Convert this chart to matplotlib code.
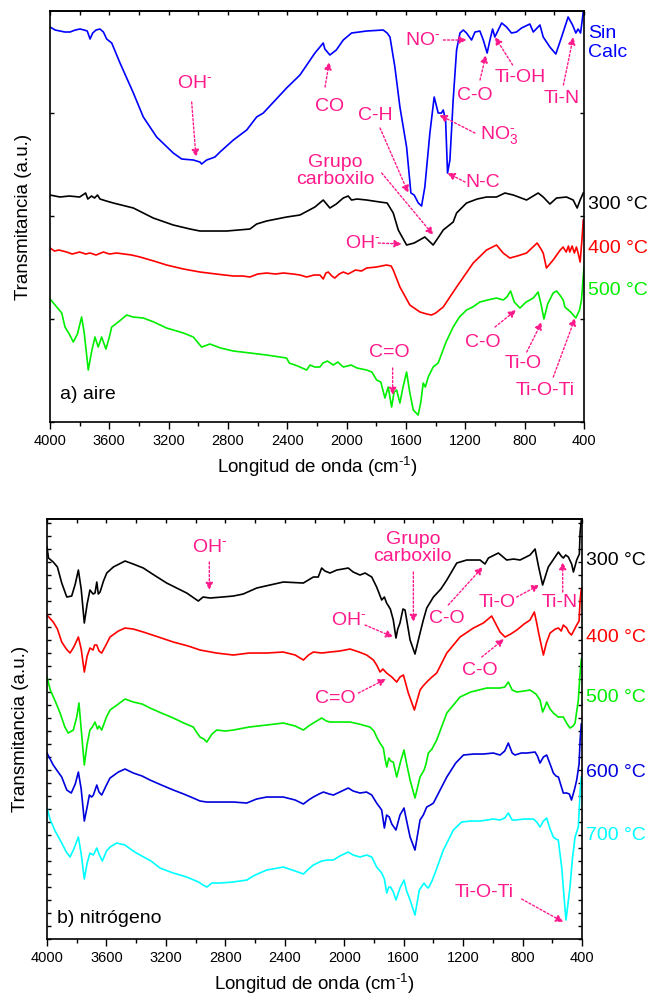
import numpy as np
import matplotlib
matplotlib.use("Agg")
import matplotlib.pyplot as plt
from matplotlib.ticker import MultipleLocator
import matplotlib.transforms as mtransforms

plt.rcParams['font.family'] = ['Liberation Sans', 'DejaVu Sans']
plt.rcParams['mathtext.fontset'] = 'custom'
plt.rcParams['mathtext.rm'] = 'Liberation Sans'
plt.rcParams['mathtext.it'] = 'Liberation Sans:italic'
plt.rcParams['mathtext.bf'] = 'Liberation Sans:bold'

# ---- spectra, (wavenumber cm-1, transmittance a.u. with offsets) ----
# a) aire
aire_sin_calc = [(4000, 395), (3965, 392), (3933, 391), (3900, 390), (3865, 390), (3830, 392), (3798, 393),
                 (3770, 392), (3749, 391), (3730, 383), (3712, 389), (3690, 392), (3663, 393), (3640, 390),
                 (3618, 383), (3584, 379), (3528, 359), (3438, 329), (3371, 305), (3281, 285), (3169, 269),
                 (3112, 263), (3034, 262), (2989, 260), (2978, 258), (2944, 262), (2888, 265), (2854, 270),
                 (2764, 282), (2674, 292), (2607, 305), (2562, 309), (2405, 334), (2315, 347), (2214, 369),
                 (2158, 379), (2147, 373), (2113, 367), (2070, 372), (2023, 382), (1967, 389), (1865, 391),
                 (1754, 392), (1727, 389), (1708, 385), (1675, 355), (1641, 315), (1596, 275), (1567, 229),
                 (1545, 227), (1517, 219), (1495, 216), (1473, 235), (1439, 289), (1410, 325), (1383, 309),
                 (1361, 309), (1349, 312), (1333, 302), (1320, 249), (1304, 262), (1282, 322), (1259, 372),
                 (1236, 389), (1214, 392), (1192, 389), (1158, 382), (1135, 390), (1102, 391), (1079, 382),
                 (1053, 369), (1034, 382), (1016, 393), (1001, 385), (955, 399), (922, 395), (889, 389),
                 (855, 390), (821, 394), (765, 398), (742, 390), (697, 397), (675, 385), (630, 375),
                 (590, 368), (551, 385), (507, 405), (477, 397), (455, 389), (440, 393), (423, 389), (405, 410)]

aire_300 = [(4000, 227), (3933, 225), (3870, 226), (3800, 225), (3760, 229), (3745, 223), (3720, 226),
            (3700, 224), (3680, 227), (3663, 223), (3620, 221), (3573, 219), (3438, 214), (3304, 204),
            (3169, 197), (3056, 193), (2989, 191), (2900, 191), (2809, 191), (2652, 193), (2607, 198),
            (2540, 201), (2405, 205), (2315, 207), (2214, 215), (2158, 222), (2113, 214), (2070, 218),
            (2023, 224), (1990, 226), (1967, 222), (1930, 223), (1865, 222), (1776, 220), (1727, 219),
            (1686, 209), (1652, 192), (1641, 189), (1596, 177), (1570, 178), (1545, 179), (1473, 185),
            (1417, 177), (1380, 185), (1349, 192), (1282, 200), (1259, 209), (1192, 219), (1120, 223),
            (1057, 225), (990, 225), (933, 229), (877, 227), (787, 222), (709, 229), (675, 225),
            (630, 218), (585, 224), (518, 225), (473, 222), (446, 214), (426, 222), (405, 229)]

aire_400 = [(4000, 174), (3970, 171), (3940, 172), (3888, 170), (3850, 168), (3800, 170), (3760, 168),
            (3730, 169), (3690, 167), (3640, 170), (3600, 168), (3551, 169), (3500, 168), (3450, 167),
            (3393, 165), (3300, 161), (3214, 157), (3100, 153), (2989, 150), (2880, 148), (2764, 146),
            (2700, 146), (2652, 145), (2600, 148), (2540, 149), (2480, 148), (2427, 149), (2360, 148),
            (2315, 147), (2270, 145), (2220, 147), (2180, 147), (2158, 143), (2140, 149), (2124, 150),
            (2100, 146), (2080, 144), (2050, 148), (2023, 150), (1990, 148), (1940, 152), (1900, 151),
            (1865, 154), (1800, 155), (1731, 157), (1700, 156), (1686, 152), (1641, 135), (1574, 117),
            (1506, 110), (1460, 108), (1428, 107), (1400, 109), (1349, 115), (1259, 135), (1147, 159),
            (1057, 172), (990, 177), (945, 169), (900, 164), (850, 166), (787, 169), (716, 179),
            (690, 173), (675, 169), (653, 154), (608, 162), (560, 172), (541, 175), (520, 170),
            (505, 176), (496, 170), (480, 176), (465, 169), (451, 175), (438, 168), (426, 160),
            (415, 180), (405, 202)]

aire_500 = [(4000, 123), (3960, 116), (3921, 109), (3899, 95), (3870, 88), (3843, 80), (3815, 88),
            (3787, 105), (3770, 90), (3742, 52), (3720, 70), (3697, 85), (3675, 75), (3652, 85),
            (3640, 80), (3623, 73), (3600, 85), (3584, 95), (3540, 100), (3483, 107), (3440, 105),
            (3371, 104), (3300, 100), (3214, 94), (3100, 89), (3034, 85), (2978, 75), (2922, 78),
            (2850, 74), (2764, 71), (2650, 69), (2540, 67), (2405, 64), (2387, 59), (2330, 56),
            (2270, 52), (2247, 57), (2215, 55), (2180, 55), (2160, 59), (2130, 61), (2090, 57),
            (2060, 60), (2023, 55), (1970, 57), (1930, 54), (1865, 52), (1830, 50), (1798, 42),
            (1770, 40), (1742, 24), (1720, 35), (1697, 15), (1680, 30), (1663, 32), (1641, 19),
            (1620, 35), (1596, 50), (1575, 30), (1551, 12), (1518, 7), (1500, 20), (1484, 39),
            (1470, 35), (1450, 45), (1417, 55), (1383, 59), (1330, 80), (1282, 95), (1240, 105),
            (1192, 112), (1150, 115), (1102, 120), (1050, 122), (990, 124), (945, 122), (920, 125),
            (895, 131), (870, 120), (832, 114), (790, 120), (742, 124), (709, 130), (690, 118),
            (670, 103), (645, 118), (608, 129), (585, 131), (563, 127), (540, 122), (529, 115),
            (490, 110), (455, 104), (430, 112), (417, 122), (400, 155)]

# b) nitrógeno
n2_300 = [(4000, 392), (3990, 381), (3958, 377), (3930, 372), (3901, 356), (3867, 342), (3834, 343),
          (3810, 355), (3789, 369), (3770, 350), (3749, 316), (3730, 335), (3711, 349), (3690, 345),
          (3677, 346), (3665, 357), (3655, 345), (3643, 347), (3620, 358), (3598, 366), (3554, 372),
          (3475, 378), (3420, 375), (3352, 371), (3280, 364), (3195, 356), (3060, 346), (2982, 338),
          (2950, 342), (2903, 341), (2820, 342), (2746, 343), (2680, 345), (2589, 351), (2500, 354),
          (2410, 357), (2275, 356), (2208, 362), (2175, 362), (2152, 371), (2130, 368), (2096, 366),
          (2050, 369), (2010, 370), (1973, 371), (1940, 367), (1894, 364), (1860, 366), (1815, 362),
          (1782, 352), (1748, 339), (1730, 342), (1715, 336), (1690, 330), (1670, 319), (1652, 301),
          (1640, 310), (1625, 316), (1605, 330), (1591, 329), (1557, 299), (1524, 285), (1490, 306),
          (1468, 319), (1445, 331), (1400, 342), (1350, 350), (1310, 359), (1243, 376), (1176, 379),
          (1086, 379), (1053, 375), (1030, 381), (963, 386), (907, 379), (860, 380), (817, 379),
          (750, 384), (716, 390), (692, 372), (665, 354), (640, 366), (627, 372), (559, 387),
          (540, 383), (526, 381), (510, 384), (492, 382), (470, 375), (458, 367), (436, 379),
          (418, 385), (413, 407), (404, 420)]

n2_400 = [(4000, 324), (3958, 317), (3930, 310), (3901, 297), (3870, 290), (3845, 286), (3820, 292),
          (3789, 302), (3770, 290), (3749, 267), (3730, 283), (3711, 291), (3690, 289), (3680, 294),
          (3665, 294), (3650, 288), (3632, 286), (3600, 295), (3576, 302), (3520, 308), (3475, 311),
          (3420, 310), (3352, 307), (3250, 302), (3150, 297), (3050, 293), (2970, 289), (2860, 286),
          (2746, 284), (2640, 286), (2522, 286), (2410, 287), (2330, 284), (2275, 279), (2240, 284),
          (2208, 287), (2150, 286), (2096, 287), (2030, 288), (1961, 290), (1900, 287), (1849, 284),
          (1804, 279), (1782, 274), (1759, 267), (1740, 270), (1715, 266), (1680, 262), (1647, 257),
          (1625, 262), (1602, 264), (1569, 246), (1528, 229), (1490, 249), (1470, 253), (1445, 257),
          (1410, 262), (1378, 266), (1310, 286), (1221, 302), (1131, 311), (1064, 316), (1008, 323),
          (980, 315), (952, 307), (918, 302), (880, 305), (839, 309), (790, 315), (750, 319),
          (721, 327), (705, 316), (692, 306), (660, 284), (640, 296), (615, 306), (580, 310),
          (559, 311), (540, 308), (526, 314), (503, 311), (490, 307), (471, 304), (450, 310),
          (436, 314), (420, 318), (413, 339), (405, 350)]

n2_500 = [(4000, 262), (3978, 249), (3945, 238), (3912, 226), (3880, 212), (3857, 206), (3823, 209),
          (3800, 222), (3785, 236), (3770, 210), (3749, 174), (3730, 195), (3711, 209), (3695, 212),
          (3677, 217), (3660, 210), (3650, 213), (3632, 209), (3600, 222), (3576, 229), (3520, 235),
          (3475, 240), (3419, 237), (3360, 235), (3307, 231), (3230, 226), (3150, 221), (3080, 216),
          (3016, 212), (2990, 206), (2970, 202), (2945, 200), (2925, 197), (2890, 205), (2858, 209),
          (2800, 208), (2746, 209), (2640, 212), (2522, 214), (2410, 216), (2330, 213), (2275, 209),
          (2240, 213), (2208, 216), (2152, 221), (2120, 218), (2096, 217), (2030, 217), (1961, 217),
          (1900, 215), (1827, 212), (1800, 208), (1782, 202), (1760, 196), (1737, 191), (1725, 180),
          (1714, 172), (1700, 181), (1688, 178), (1670, 177), (1647, 162), (1620, 178), (1598, 189),
          (1580, 175), (1557, 159), (1524, 141), (1490, 162), (1463, 169), (1450, 175), (1434, 186),
          (1410, 190), (1378, 199), (1310, 226), (1221, 242), (1150, 247), (1041, 251), (1000, 251),
          (952, 251), (920, 252), (896, 257), (870, 249), (839, 247), (790, 248), (750, 249),
          (710, 245), (683, 239), (665, 227), (650, 232), (638, 237), (615, 230), (593, 226),
          (560, 222), (526, 222), (500, 215), (481, 211), (460, 213), (447, 216), (425, 239),
          (413, 266), (405, 280)]

n2_600 = [(4000, 186), (3958, 174), (3930, 168), (3901, 162), (3867, 149), (3837, 146), (3810, 155),
          (3789, 167), (3770, 150), (3749, 118), (3730, 132), (3715, 144), (3700, 142), (3688, 144),
          (3665, 154), (3650, 147), (3632, 144), (3600, 154), (3576, 161), (3520, 167), (3475, 170),
          (3419, 166), (3360, 163), (3307, 159), (3230, 154), (3150, 149), (3080, 145), (3016, 141),
          (2970, 138), (2925, 137), (2850, 137), (2746, 137), (2656, 136), (2590, 140), (2522, 142),
          (2410, 142), (2330, 139), (2275, 135), (2240, 139), (2208, 142), (2170, 145), (2140, 147),
          (2100, 145), (2073, 144), (2030, 147), (1973, 151), (1940, 148), (1894, 146), (1850, 147),
          (1815, 144), (1782, 136), (1748, 129), (1730, 111), (1715, 124), (1697, 122), (1680, 115),
          (1652, 109), (1625, 124), (1598, 131), (1580, 118), (1557, 102), (1524, 89), (1490, 119),
          (1468, 124), (1445, 132), (1420, 134), (1400, 136), (1310, 162), (1250, 176), (1198, 184),
          (1130, 185), (1064, 185), (997, 186), (952, 184), (920, 188), (896, 196), (870, 186),
          (851, 184), (810, 186), (772, 186), (716, 187), (700, 183), (683, 176), (660, 182),
          (638, 184), (615, 175), (593, 166), (575, 163), (559, 162), (526, 146), (503, 146),
          (485, 145), (471, 139), (450, 150), (436, 159), (420, 175), (413, 199), (405, 215)]

n2_700 = [(4000, 131), (3978, 119), (3945, 108), (3901, 96), (3870, 87), (3845, 82), (3820, 90),
          (3789, 102), (3770, 85), (3749, 60), (3730, 76), (3711, 86), (3700, 85), (3688, 84),
          (3665, 91), (3650, 85), (3628, 78), (3600, 88), (3576, 92), (3531, 96), (3475, 94),
          (3420, 88), (3374, 84), (3300, 78), (3240, 71), (3150, 66), (3060, 62), (2980, 57),
          (2950, 54), (2925, 52), (2890, 56), (2836, 56), (2750, 57), (2656, 59), (2600, 64),
          (2522, 69), (2410, 72), (2330, 68), (2275, 65), (2240, 70), (2208, 74), (2152, 78),
          (2110, 79), (2073, 79), (2030, 83), (1973, 87), (1940, 84), (1894, 82), (1850, 84),
          (1815, 82), (1782, 72), (1748, 66), (1730, 60), (1714, 46), (1700, 52), (1688, 52),
          (1670, 47), (1652, 39), (1625, 51), (1598, 59), (1580, 48), (1557, 39), (1524, 24),
          (1495, 49), (1463, 56), (1450, 53), (1434, 51), (1410, 58), (1389, 66), (1333, 89),
          (1266, 109), (1210, 117), (1150, 118), (1086, 118), (997, 120), (952, 119), (920, 121),
          (896, 126), (870, 119), (851, 119), (790, 120), (727, 120), (705, 117), (683, 112),
          (660, 118), (638, 121), (615, 110), (593, 102), (575, 100), (560, 99), (537, 72),
          (520, 40), (508, 19), (495, 35), (481, 52), (465, 80), (447, 102), (425, 112),
          (413, 147), (405, 162)]

# curve, colour, side label, label height
aire_series = [(aire_sin_calc, '#0000ff', 'Sin\nCalc', 379),
               (aire_300, '#000000', '300 °C', 218),
               (aire_400, '#ff0000', '400 °C', 174),
               (aire_500, '#00ee00', '500 °C', 132)]
n2_series = [(n2_300, '#000000', '300 °C', 379),
             (n2_400, '#ff0000', '400 °C', 302),
             (n2_500, '#00ee00', '500 °C', 242),
             (n2_600, '#0000dd', '600 °C', 167),
             (n2_700, '#00ffff', '700 °C', 104)]

SUP = r'$^{\text{-}}$'

# band assignments: text, text pos, arrow tail, arrow head
aire_bands = [('OH' + SUP, (3022, 339), (3045, 320), (3016, 265)),
              ('CO', (2112, 316), (2146, 335), (2117, 360)),
              ('C-H', (1809, 307), (1775, 294), (1584, 229)),
              ('Grupo\ncarboxilo', (2079, 251), (1764, 249), (1416, 187)),
              (r'NO$_3^{\text{-}}$', (973, 287), (1135, 289), (1375, 307)),
              ('N-C', (1084, 240), (1202, 240), (1321, 249)),
              ('NO' + SUP, (1485, 382), (1348, 382), (1191, 382)),
              ('C-O', (1137, 327), (1101, 342), (1061, 367)),
              ('Ti-OH', (831, 345), (881, 357), (1000, 385)),
              ('Ti-N', (550, 324), (539, 337), (472, 385)),
              ('OH' + SUP, (1893, 179), (1787, 179), (1629, 178)),
              ('C=O', (1710, 70), (1690, 54), (1690, 27)),
              ('C-O', (1081, 80), (1000, 95), (858, 112)),
              ('Ti-O', (812, 59), (786, 70), (685, 100)),
              ('Ti-O-Ti', (665, 32), (607, 45), (460, 104))]
n2_bands = [('OH' + SUP, (2903, 392), (2908, 377), (2908, 349)),
            ('Grupo\ncarboxilo', (1539, 391), (1535, 367), (1535, 317)),
            ('OH' + SUP, (1970, 319), (1860, 314), (1670, 302)),
            ('C-O', (1310, 321), (1300, 334), (1068, 372)),
            ('Ti-O', (974, 337), (840, 342), (687, 354)),
            ('Ti-N', (548, 337), (530, 347), (530, 377)),
            ('C-O', (1090, 269), (1075, 282), (925, 300)),
            ('C=O', (2059, 241), (1905, 246), (1719, 260)),
            ('Ti-O-Ti', (1056, 47), (806, 40), (526, 17))]

MAG = '#ff1a8c'

fig = plt.figure(figsize=(6.52, 10.01), dpi=100)
ax1 = fig.add_axes([0.0767, 0.5784, 0.819, 0.4106])
ax2 = fig.add_axes([0.0721, 0.0619, 0.8206, 0.4196])


def draw_panel(ax, series, bands, ylim, panel_text, panel_y, ymajor, yminor):
    for data, color, name, ylab in series:
        arr = np.array(data, dtype=float)
        ax.plot(arr[:, 0], arr[:, 1], color=color, lw=1.2)
        trans = mtransforms.blended_transform_factory(ax.transAxes, ax.transData)
        ax.text(1.008, ylab, name, color=color, fontsize=14, ha='left', va='center',
                transform=trans, linespacing=1.15)
    for label, txt, tail, head in bands:
        ax.annotate('', xy=head, xytext=tail,
                    arrowprops=dict(arrowstyle='-|>', color=MAG, lw=1.0, ls=(0, (1.5, 1.5)),
                                    mutation_scale=11, shrinkA=0, shrinkB=0))
        ax.text(txt[0], txt[1], label, color=MAG, fontsize=14, ha='center', va='center',
                linespacing=1.0)
    ax.text(0.018, panel_y, panel_text, transform=ax.transAxes, fontsize=14,
            ha='left', va='center')
    ax.set_xlim(4000, 400)
    ax.set_ylim(*ylim)
    ax.xaxis.set_major_locator(MultipleLocator(400))
    ax.xaxis.set_minor_locator(MultipleLocator(200))
    ax.yaxis.set_major_locator(MultipleLocator(ymajor))
    if yminor:
        ax.yaxis.set_minor_locator(MultipleLocator(yminor))
    ax.tick_params(axis='x', which='major', direction='out', length=5, width=1, labelsize=10.5)
    ax.tick_params(axis='x', which='minor', direction='out', length=3, width=1)
    ax.tick_params(axis='y', which='both', direction='in', left=True, right=True,
                   labelleft=False, length=3, width=1)
    top = ax.secondary_xaxis('top')
    top.xaxis.set_major_locator(MultipleLocator(200))
    top.tick_params(direction='in', length=3, width=1, labeltop=False)
    for s in ax.spines.values():
        s.set_linewidth(1.2)
    top.spines['top'].set_linewidth(1.2)
    ax.set_xlabel(r'Longitud de onda (cm$^{\text{-1}}$)', fontsize=13.5, labelpad=5)
    ax.set_ylabel('Transmitancia (a.u.)', fontsize=13.5, labelpad=13)


draw_panel(ax1, aire_series, aire_bands, (0, 411), 'a) aire', 0.066, 103, None)
draw_panel(ax2, n2_series, n2_bands, (0, 420), 'b) nitrógeno', 0.048, 26, 13)

fig.savefig('out.png', dpi=100)
